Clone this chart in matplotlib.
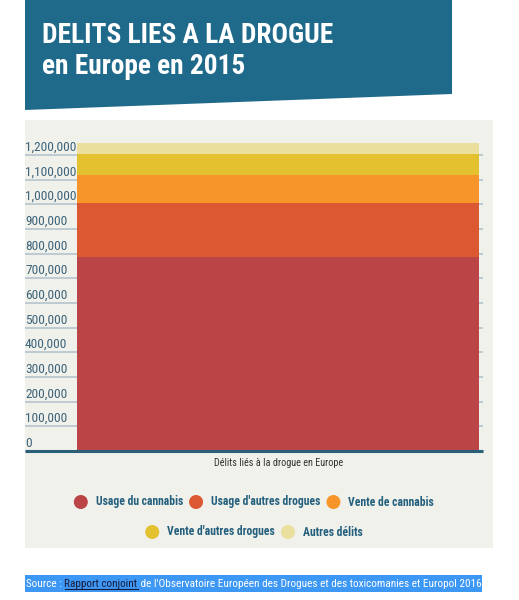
import matplotlib
matplotlib.use("Agg")
import matplotlib.pyplot as plt
import matplotlib.transforms as mtransforms
from matplotlib.patches import Rectangle, Polygon, Circle
import numpy as np

# data
categories = ["Délits liés à la drogue en Europe"]
series_names = ["Usage du cannabis", "Usage d'autres drogues", "Vente de cannabis",
                "Vente d'autres drogues", "Autres délits"]
series_values = [785000, 220000, 114000, 85000, 44000]
series_colors = ["#bb4446", "#dc5833", "#f7952a", "#e4c12e", "#eadf9c"]
y_ticks = [0, 100000, 200000, 300000, 400000, 500000, 600000,
           700000, 800000, 900000, 1000000, 1100000, 1200000]

W, H = 519, 600
plt.rcParams["font.family"] = ["Roboto Condensed", "Liberation Sans Narrow", "Roboto", "DejaVu Sans"]

fig = plt.figure(figsize=(W / 100, H / 100), dpi=100)
fig.patch.set_facecolor("white")
renderer = fig.canvas.get_renderer()


def fx(px):
    return px / W


def fy(py):
    return 1 - py / H


def text_width_px(s, **kw):
    t = fig.text(0, 0, s, **kw)
    w = t.get_window_extent(renderer).width
    t.remove()
    return w


def fit_size(s, target_px, max_size, **kw):
    # font size that makes the string about target_px wide
    w = text_width_px(s, fontsize=10, **kw)
    return min(max_size, 10 * target_px / w)


# title banner
fig.patches.append(Polygon([(fx(25), fy(0)), (fx(452), fy(0)), (fx(452), fy(94)), (fx(25), fy(110))],
                           closed=True, transform=fig.transFigure, facecolor="#1f6a8a",
                           edgecolor="none", zorder=-1))
title_size = fit_size("DELITS LIES A LA DROGUE", 290, 21, fontweight="bold")
fig.text(fx(42), fy(43), "DELITS LIES A LA DROGUE", color="white", fontsize=title_size,
         fontweight="bold", va="baseline", ha="left")
fig.text(fx(42), fy(74), "en Europe en 2015", color="white", fontsize=title_size,
         fontweight="bold", va="baseline", ha="left")

# grey panel
fig.patches.append(Rectangle((fx(25), fy(548)), fx(493) - fx(25), fy(120) - fy(548),
                             transform=fig.transFigure, facecolor="#f1f1ec", edgecolor="none",
                             zorder=-1))

# axes: x 25..483 px, y0 at 451 px, 24.67 px per 100k
px_per = 24.67 / 100000
ymax = 1300000
top_px = 451 - ymax * px_per
ax = fig.add_axes([fx(25), fy(451), fx(483) - fx(25), (451 - top_px) / H])
ax.set_facecolor("none")
for s in ax.spines.values():
    s.set_visible(False)
ax.set_xticks([])
ax.set_yticks([])
ax.set_ylim(0, ymax)
ax.set_xlim(-0.552, 0.448)

x = np.arange(len(categories))
bottom = np.zeros(len(categories))
for name, val, col in zip(series_names, series_values, series_colors):
    ax.bar(x, [val], 0.878, bottom=bottom, color=col, edgecolor="none", zorder=3, label=name)
    bottom += val

tick_size = fit_size("1,200,000", 51, 10)
trans = mtransforms.blended_transform_factory(ax.transAxes, ax.transData)
for t in y_ticks:
    if t > 0:
        ax.plot([0, 1], [t, t], transform=trans, color="#b9c8d0", lw=1.3, zorder=1,
                solid_capstyle="butt")
    ax.text(0, t, f"{t:,}", transform=trans + mtransforms.ScaledTranslation(0, 3 / 72, fig.dpi_scale_trans),
            ha="left", va="baseline", fontsize=tick_size, color="#3b6379", zorder=2)
ax.plot([0, 1], [0, 0], transform=trans, color="#2a5f7a", lw=2.2, zorder=4,
        solid_capstyle="butt", clip_on=False)

xl_size = fit_size(categories[0], 128, 9)
fig.text(fx(279), fy(463), categories[0], ha="center", va="center", fontsize=xl_size, color="#333333")

# legend, laid out as centred rows
leg_size = fit_size("Usage du cannabis", 88, 10.5, fontweight="bold")
leg_kw = dict(fontsize=leg_size, fontweight="bold", color="#24607e")
rows = [[0, 1, 2], [3, 4]]
row_y = [502, 532]
radius = 7
gap_marker_text = 8
gap_entries = 6
for r, ry in zip(rows, row_y):
    widths = [text_width_px(series_names[i], **leg_kw) for i in r]
    total = sum(2 * radius + gap_marker_text + w for w in widths) + gap_entries * (len(r) - 1)
    cx = 254 - total / 2
    for i, w in zip(r, widths):
        fig.patches.append(Circle((cx + radius, H - ry), radius, transform=None,
                                  facecolor=series_colors[i], edgecolor="none"))
        fig.text(fx(cx + 2 * radius + gap_marker_text), fy(ry), series_names[i],
                 ha="left", va="center", **leg_kw)
        cx += 2 * radius + gap_marker_text + w + gap_entries

# source line with highlight
parts = [("Source : ", "white", False), ("Rapport conjoint", "#1a1a3a", True),
         (" de l'Observatoire Européen des Drogues et des toxicomanies et Europol 2016", "white", False)]
src_size = fit_size("".join(p[0] for p in parts), 454, 10)
src_kw = dict(fontsize=src_size)
fig.patches.append(Rectangle((fx(25), fy(592)), fx(482) - fx(25), fy(575) - fy(592),
                             transform=fig.transFigure, facecolor="#3d97f5", edgecolor="none"))
cx = 26
for s, col, ul in parts:
    w = text_width_px(s, **src_kw)
    fig.text(fx(cx), fy(587), s, color=col, ha="left", va="baseline", **src_kw)
    if ul:
        fig.lines.append(plt.Line2D([fx(cx), fx(cx + w)], [fy(589), fy(589)],
                                    transform=fig.transFigure, color=col, lw=0.8))
    cx += w

fig.savefig("out.png", dpi=100)
